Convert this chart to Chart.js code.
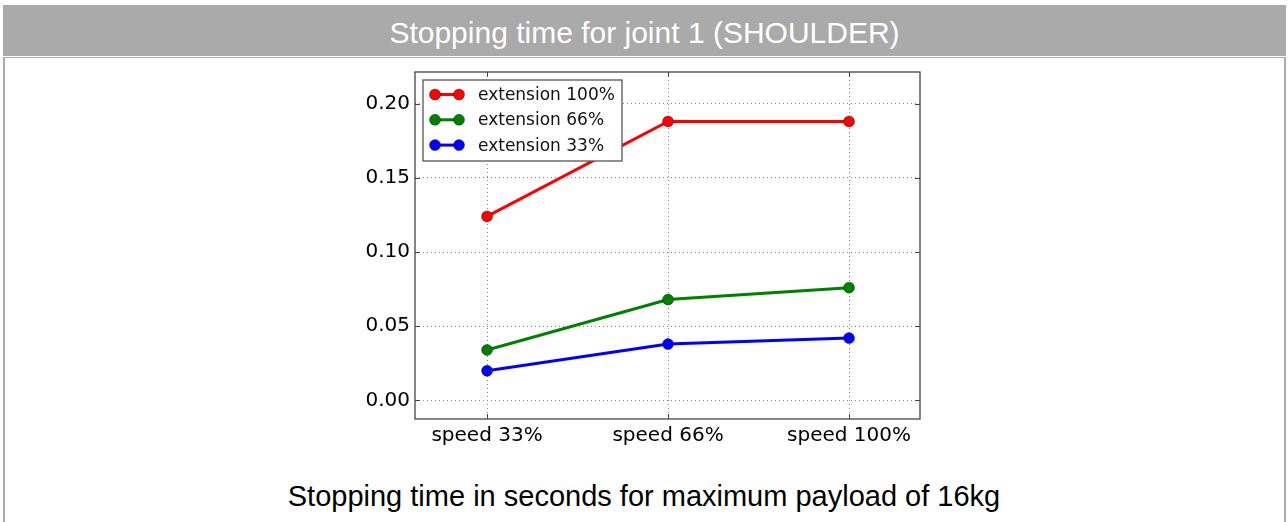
<!DOCTYPE html>
<html>
<head>
<meta charset="utf-8">
<script src="https://cdn.jsdelivr.net/npm/chart.js@4"></script>
<style>
    body { margin: 0; background: #fff; width: 1288px; height: 522px; overflow: hidden; position: relative; }
    .title-bar {
        position: absolute; left: 3px; top: 5px; width: 1283px; height: 51px;
        background: #aaa; color: #fff;
        font-family: "Liberation Sans", Arial, sans-serif; font-size: 30px;
        line-height: 55px; text-align: center;
    }
    .panel {
        position: absolute; left: 3px; top: 57px; width: 1279px; height: 480px;
        border-left: 2px solid #aaa; border-right: 2px solid #aaa; border-top: 1px solid #aaa;
    }
    .caption {
        position: absolute; left: 0; top: 480px; width: 1288px; text-align: center;
        font-family: "Liberation Sans", Arial, sans-serif; font-size: 29px; color: #000;
    }
    #chart-wrap { position: absolute; left: 0; top: 0; width: 1288px; height: 470px; }
</style>
</head>
<body>
<div class="title-bar">Stopping time for joint 1 (SHOULDER)</div>
<div class="panel"></div>
<div id="chart-wrap"><canvas id="stop-chart"></canvas></div>
<div class="caption">Stopping time in seconds for maximum payload of 16kg</div>

<script>
// speed settings on the x axis, stopping time (s) per arm extension
const speeds = ['speed 33%', 'speed 66%', 'speed 100%'];
const ext100 = [0.124, 0.188, 0.188];
const ext66 = [0.034, 0.068, 0.076];
const ext33 = [0.020, 0.038, 0.042];
const seriesNames = ['extension 100%', 'extension 66%', 'extension 33%'];
const seriesColors = ['#ff0000', '#008000', '#0000ff'];
const yTicks = [0, 0.05, 0.10, 0.15, 0.20];

const toPoints = values => values.map((v, i) => ({ x: i, y: v }));

function makeDataset(i, values) {
    return {
        label: seriesNames[i],
        data: toPoints(values),
        borderColor: seriesColors[i],
        backgroundColor: seriesColors[i],
        borderWidth: 3,
        pointRadius: 5.5,
        pointHoverRadius: 5.5,
        pointBackgroundColor: seriesColors[i],
        pointBorderColor: 'rgba(0,0,0,0.45)',
        pointBorderWidth: 0.8,
        tension: 0
    };
}

// axes frame with inward tick marks on all four sides
const framePlugin = {
    id: 'frame',
    afterDatasetsDraw(chart) {
        const { ctx, chartArea: a, scales } = chart;
        ctx.save();
        ctx.strokeStyle = '#444';
        ctx.lineWidth = 1.3;
        ctx.strokeRect(a.left, a.top, a.right - a.left, a.bottom - a.top);
        ctx.lineWidth = 1;
        ctx.beginPath();
        yTicks.forEach(t => {
            const y = Math.round(scales.y.getPixelForValue(t)) + 0.5;
            ctx.moveTo(a.left, y); ctx.lineTo(a.left + 5, y);
            ctx.moveTo(a.right, y); ctx.lineTo(a.right - 5, y);
        });
        speeds.forEach((s, i) => {
            const x = Math.round(scales.x.getPixelForValue(i)) + 0.5;
            ctx.moveTo(x, a.top); ctx.lineTo(x, a.top + 5);
            ctx.moveTo(x, a.bottom); ctx.lineTo(x, a.bottom - 5);
        });
        ctx.stroke();
        ctx.restore();
    }
};

// legend box in the upper left of the plot: line with two markers + label
const legendPlugin = {
    id: 'boxLegend',
    afterDraw(chart) {
        const { ctx, chartArea: a } = chart;
        const left = a.left + 8, top = a.top + 8;
        const w = 199, h = 81;
        ctx.save();
        ctx.fillStyle = '#fff';
        ctx.fillRect(left, top, w, h);
        ctx.strokeStyle = '#555';
        ctx.lineWidth = 1.3;
        ctx.strokeRect(left, top, w, h);
        ctx.font = '17px "DejaVu Sans"';
        ctx.textBaseline = 'middle';
        chart.data.datasets.forEach((ds, i) => {
            const y = top + 14.5 + i * 25.3;
            const x1 = left + 12, x2 = left + 36;
            ctx.strokeStyle = ds.borderColor;
            ctx.lineWidth = 3;
            ctx.beginPath();
            ctx.moveTo(x1, y); ctx.lineTo(x2, y);
            ctx.stroke();
            [x1, x2].forEach(x => {
                ctx.beginPath();
                ctx.arc(x, y, 5.5, 0, Math.PI * 2);
                ctx.fillStyle = ds.backgroundColor;
                ctx.fill();
                ctx.lineWidth = 0.8;
                ctx.strokeStyle = 'rgba(0,0,0,0.45)';
                ctx.stroke();
            });
            ctx.fillStyle = '#111';
            ctx.fillText(ds.label, left + 55, y + 1);
        });
        ctx.restore();
    }
};

const ctx = document.getElementById('stop-chart').getContext('2d');
new Chart(ctx, {
    type: 'line',
    data: {
        datasets: [makeDataset(0, ext100), makeDataset(1, ext66), makeDataset(2, ext33)]
    },
    options: {
        responsive: true,
        maintainAspectRatio: false,
        animation: false,
        layout: { padding: { top: 72, right: 368, bottom: 0, left: 0 } },
        plugins: { legend: { display: false }, tooltip: { enabled: false } },
        scales: {
            x: {
                type: 'linear',
                min: -0.398,
                max: 2.392,
                afterFit: scale => { scale.height = 51; },
                afterBuildTicks: scale => { scale.ticks = speeds.map((s, i) => ({ value: i })); },
                grid: { color: '#888', lineWidth: 1, drawTicks: false },
                border: { display: false, dash: [1, 3] },
                ticks: {
                    padding: 5,
                    color: '#000',
                    font: { family: 'DejaVu Sans', size: 20 },
                    maxRotation: 0,
                    callback: v => speeds[v]
                }
            },
            y: {
                min: -0.0125,
                max: 0.2213,
                afterFit: scale => { scale.width = 415; },
                afterBuildTicks: scale => { scale.ticks = yTicks.map(v => ({ value: v })); },
                grid: { color: '#888', lineWidth: 1, drawTicks: false },
                border: { display: false, dash: [1, 3] },
                ticks: {
                    padding: 5,
                    color: '#000',
                    font: { family: 'DejaVu Sans', size: 20 },
                    callback: v => v.toFixed(2)
                }
            }
        }
    },
    plugins: [framePlugin, legendPlugin]
});
</script>
</body>
</html>
